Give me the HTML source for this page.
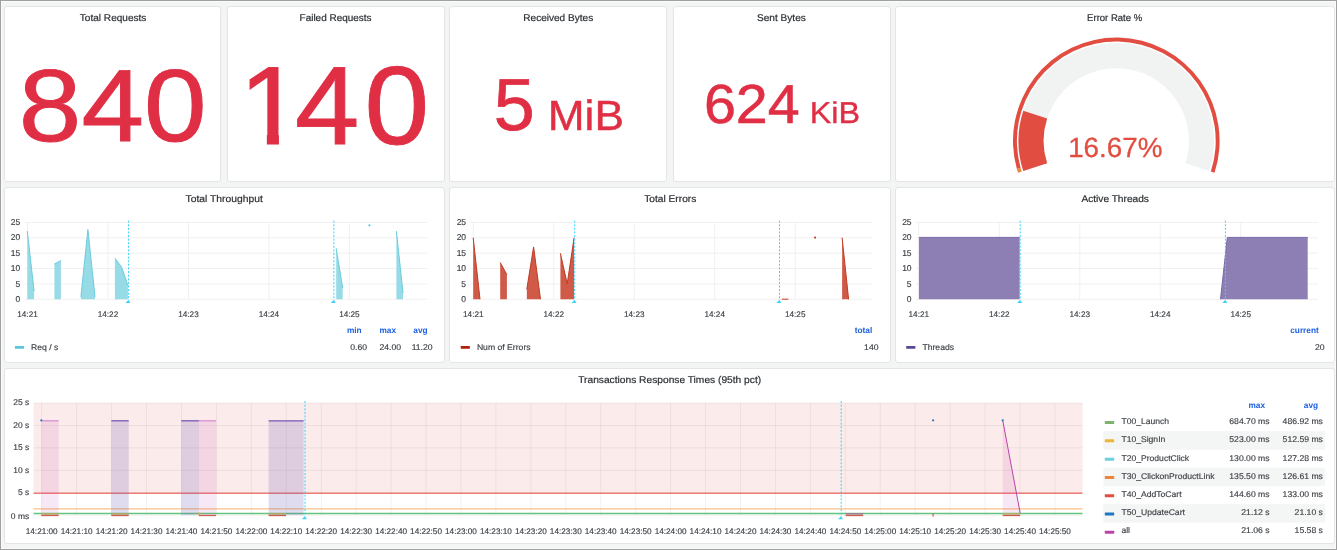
<!DOCTYPE html>
<html><head><meta charset="utf-8"><title>Dashboard</title>
<style>
html,body{margin:0;padding:0;}
body{width:1337px;height:550px;overflow:hidden;position:relative;background:#f3f4f4;font-family:"Liberation Sans", Arial, sans-serif;}
.frame{position:absolute;left:0;top:0;width:1335px;height:548px;border:1px solid #a0a0a0;box-shadow:inset 0 0 0 1px #fbfbfb;}
.panel{position:absolute;box-sizing:border-box;background:#fff;border:1px solid #e4e6e6;border-radius:3px;}
svg{position:absolute;left:0;top:0;}
text{font-family:"Liberation Sans", Arial, sans-serif;text-rendering:geometricPrecision;}
</style></head><body>
<div class="frame"></div>
<div class="panel" style="left:4.10px;top:6.00px;width:217.40px;height:175.70px"></div><div class="panel" style="left:226.90px;top:6.00px;width:218.20px;height:175.70px"></div><div class="panel" style="left:449.30px;top:6.00px;width:218.00px;height:175.70px"></div><div class="panel" style="left:672.80px;top:6.00px;width:217.80px;height:175.70px"></div><div class="panel" style="left:895.10px;top:6.00px;width:439.90px;height:175.70px"></div><div class="panel" style="left:4.10px;top:186.80px;width:441.00px;height:175.90px"></div><div class="panel" style="left:449.30px;top:186.80px;width:441.30px;height:175.90px"></div><div class="panel" style="left:895.10px;top:186.80px;width:439.90px;height:175.90px"></div><div class="panel" style="left:4.10px;top:367.50px;width:1330.90px;height:176.00px"></div>
<svg width="1337" height="550" viewBox="0 0 1337 550">
<text x="79.84" y="21.00" font-size="9.8" fill="#2b2f33" text-anchor="start" font-weight="normal" transform="translate(79.84,0) scale(1.0268,1) translate(-79.84,0)" stroke="#2b2f33" stroke-width="0.2" >Total Requests</text>
<text x="299.59" y="21.00" font-size="9.8" fill="#2b2f33" text-anchor="start" font-weight="normal" transform="translate(299.59,0) scale(1.0156,1) translate(-299.59,0)" stroke="#2b2f33" stroke-width="0.2" >Failed Requests</text>
<text x="523.28" y="21.00" font-size="9.8" fill="#2b2f33" text-anchor="start" font-weight="normal" transform="translate(523.28,0) scale(1.027,1) translate(-523.28,0)" stroke="#2b2f33" stroke-width="0.2" >Received Bytes</text>
<text x="756.99" y="21.00" font-size="9.8" fill="#2b2f33" text-anchor="start" font-weight="normal" transform="translate(756.99,0) scale(1.0302,1) translate(-756.99,0)" stroke="#2b2f33" stroke-width="0.2" >Sent Bytes</text>
<text x="1087.12" y="21.00" font-size="9.8" fill="#2b2f33" text-anchor="start" font-weight="normal" transform="translate(1087.12,0) scale(0.9726,1) translate(-1087.12,0)" stroke="#2b2f33" stroke-width="0.2" >Error Rate %</text>
<text x="185.59" y="201.80" font-size="9.8" fill="#2b2f33" text-anchor="start" font-weight="normal" transform="translate(185.59,0) scale(1.0528,1) translate(-185.59,0)" stroke="#2b2f33" stroke-width="0.2" >Total Throughput</text>
<text x="644.19" y="201.80" font-size="9.8" fill="#2b2f33" text-anchor="start" font-weight="normal" transform="translate(644.19,0) scale(1.0403,1) translate(-644.19,0)" stroke="#2b2f33" stroke-width="0.2" >Total Errors</text>
<text x="1081.40" y="201.80" font-size="9.8" fill="#2b2f33" text-anchor="start" font-weight="normal" transform="translate(1081.40,0) scale(1.036,1) translate(-1081.40,0)" stroke="#2b2f33" stroke-width="0.2" >Active Threads</text>
<text x="578.19" y="382.50" font-size="9.8" fill="#2b2f33" text-anchor="start" font-weight="normal" transform="translate(578.19,0) scale(1.0424,1) translate(-578.19,0)" stroke="#2b2f33" stroke-width="0.2" >Transactions Response Times (95th pct)</text>
<text transform="translate(112.70,140.70) scale(1.097,1)" x="0" y="0" font-size="102.6" fill="#e02f44" stroke="#e02f44" stroke-width="0.9" text-anchor="middle">840</text>
<clipPath id="c1"><rect x="230" y="40" width="80" height="93.8"/><rect x="266.85" y="40" width="12.1" height="120"/></clipPath>
<g clip-path="url(#c1)"><text transform="translate(239.1,143.6) scale(1.03,1)" x="0" y="0" font-size="111.4" fill="#e02f44" stroke="#e02f44" stroke-width="0.9">1</text></g>
<text transform="translate(294.9,143.6) scale(1.039,1)" x="0" y="0" font-size="111.4" fill="#e02f44" stroke="#e02f44" stroke-width="0.9">4</text>
<text transform="translate(364.6,143.6) scale(1.044,1)" x="0" y="0" font-size="111.4" fill="#e02f44" stroke="#e02f44" stroke-width="0.9">0</text>
<text x="493.7" y="129.8" font-size="73.8" fill="#e02f44" stroke="#e02f44" stroke-width="0.7">5</text>
<text x="547.8" y="129.8" font-size="42.3" fill="#e02f44" stroke="#e02f44" stroke-width="0.45" transform="translate(547.8,0) scale(1.045,1) translate(-547.8,0)">MiB</text>
<text x="703.9" y="122.7" font-size="55.0" fill="#e02f44" stroke="#e02f44" stroke-width="0.55" transform="translate(703.8,0) scale(1.044,1) translate(-703.8,0)">624</text>
<text x="809.8" y="122.5" font-size="30.2" fill="#e02f44" stroke="#e02f44" stroke-width="0.35" transform="translate(809.8,0) scale(1.07,1) translate(-809.8,0)">KiB</text>
<path d="M1023.29,171.12 A97.8,97.8 0 1 1 1209.31,171.12 L1185.44,163.37 A72.7,72.7 0 1 0 1047.16,163.37 Z" fill="#f1f2f2"/>
<path d="M1023.29,171.12 A97.8,97.8 0 0 1 1023.29,110.67 L1047.16,118.43 A72.7,72.7 0 0 0 1047.16,163.37 Z" fill="#e24d42"/>
<path d="M1016.90,169.03 A103.3,103.3 0 1 1 1214.54,172.82 L1210.84,171.62 A99.4,99.4 0 1 0 1020.66,167.96 Z" fill="#e24d42"/>
<path d="M1018.06,172.82 A103.3,103.3 0 0 1 1016.90,169.03 L1020.66,167.96 A99.4,99.4 0 0 0 1021.76,171.62 Z" fill="#ef843c"/>
<text x="1115.3" y="157.3" font-size="27.8" fill="#e24d42" stroke="#e24d42" stroke-width="0.3" text-anchor="middle">16.67%</text>
<text x="31.10" y="349.80" font-size="8.3" fill="#3d4146" text-anchor="start" font-weight="normal" transform="translate(31.10,0) scale(1.04,1) translate(-31.10,0)" stroke="#3d4146" stroke-width="0.15" >Req / s</text>
<text x="354.30" y="333.00" font-size="8.3" fill="#1f62e0" text-anchor="middle" font-weight="bold" >min</text>
<text x="387.70" y="333.00" font-size="8.3" fill="#1f62e0" text-anchor="middle" font-weight="bold" >max</text>
<text x="420.50" y="333.00" font-size="8.3" fill="#1f62e0" text-anchor="middle" font-weight="bold" >avg</text>
<text x="367.00" y="349.60" font-size="8.3" fill="#3d4146" text-anchor="end" font-weight="normal" transform="translate(367.00,0) scale(1.04,1) translate(-367.00,0)" stroke="#3d4146" stroke-width="0.15" >0.60</text>
<text x="401.00" y="349.60" font-size="8.3" fill="#3d4146" text-anchor="end" font-weight="normal" transform="translate(401.00,0) scale(1.04,1) translate(-401.00,0)" stroke="#3d4146" stroke-width="0.15" >24.00</text>
<text x="432.60" y="349.60" font-size="8.3" fill="#3d4146" text-anchor="end" font-weight="normal" transform="translate(432.60,0) scale(1.04,1) translate(-432.60,0)" stroke="#3d4146" stroke-width="0.15" >11.20</text>
<text x="20.30" y="301.90" font-size="8.5" fill="#3d4146" text-anchor="end" font-weight="normal" stroke="#3d4146" stroke-width="0.15" >0</text>
<text x="20.30" y="286.52" font-size="8.5" fill="#3d4146" text-anchor="end" font-weight="normal" stroke="#3d4146" stroke-width="0.15" >5</text>
<text x="20.30" y="271.14" font-size="8.5" fill="#3d4146" text-anchor="end" font-weight="normal" stroke="#3d4146" stroke-width="0.15" >10</text>
<text x="20.30" y="255.76" font-size="8.5" fill="#3d4146" text-anchor="end" font-weight="normal" stroke="#3d4146" stroke-width="0.15" >15</text>
<text x="20.30" y="240.38" font-size="8.5" fill="#3d4146" text-anchor="end" font-weight="normal" stroke="#3d4146" stroke-width="0.15" >20</text>
<text x="20.30" y="225.00" font-size="8.5" fill="#3d4146" text-anchor="end" font-weight="normal" stroke="#3d4146" stroke-width="0.15" >25</text>
<text x="27.50" y="316.90" font-size="8.2" fill="#3d4146" text-anchor="middle" font-weight="normal" stroke="#3d4146" stroke-width="0.15" >14:21</text>
<text x="107.98" y="316.90" font-size="8.2" fill="#3d4146" text-anchor="middle" font-weight="normal" stroke="#3d4146" stroke-width="0.15" >14:22</text>
<text x="188.46" y="316.90" font-size="8.2" fill="#3d4146" text-anchor="middle" font-weight="normal" stroke="#3d4146" stroke-width="0.15" >14:23</text>
<text x="268.94" y="316.90" font-size="8.2" fill="#3d4146" text-anchor="middle" font-weight="normal" stroke="#3d4146" stroke-width="0.15" >14:24</text>
<text x="349.42" y="316.90" font-size="8.2" fill="#3d4146" text-anchor="middle" font-weight="normal" stroke="#3d4146" stroke-width="0.15" >14:25</text>
<line x1="24.70" y1="299.30" x2="427.00" y2="299.30" stroke="#f0f0f0" stroke-width="1"/>
<line x1="24.70" y1="283.92" x2="427.00" y2="283.92" stroke="#f0f0f0" stroke-width="1"/>
<line x1="24.70" y1="268.54" x2="427.00" y2="268.54" stroke="#f0f0f0" stroke-width="1"/>
<line x1="24.70" y1="253.16" x2="427.00" y2="253.16" stroke="#f0f0f0" stroke-width="1"/>
<line x1="24.70" y1="237.78" x2="427.00" y2="237.78" stroke="#f0f0f0" stroke-width="1"/>
<line x1="24.70" y1="222.40" x2="427.00" y2="222.40" stroke="#f0f0f0" stroke-width="1"/>
<line x1="27.50" y1="222.40" x2="27.50" y2="299.30" stroke="#f0f0f0" stroke-width="1"/>
<line x1="107.98" y1="222.40" x2="107.98" y2="299.30" stroke="#f0f0f0" stroke-width="1"/>
<line x1="188.46" y1="222.40" x2="188.46" y2="299.30" stroke="#f0f0f0" stroke-width="1"/>
<line x1="268.94" y1="222.40" x2="268.94" y2="299.30" stroke="#f0f0f0" stroke-width="1"/>
<line x1="349.42" y1="222.40" x2="349.42" y2="299.30" stroke="#f0f0f0" stroke-width="1"/>
<polygon points="27.30,299.30 27.30,231.10 34.10,291.10 34.10,299.30" fill="#97dbe7" fill-opacity="1.0"/>
<polyline points="27.30,231.10 34.10,291.10" fill="none" stroke="#6ccbdc" stroke-width="1.0" stroke-linejoin="round"/>
<polygon points="54.40,299.30 54.40,264.10 60.90,260.50 60.90,299.30" fill="#97dbe7" fill-opacity="1.0"/>
<polyline points="54.40,264.10 60.90,260.50" fill="none" stroke="#6ccbdc" stroke-width="1.0" stroke-linejoin="round"/>
<polygon points="80.90,299.30 80.90,297.00 87.90,229.60 95.00,297.00 95.00,299.30" fill="#97dbe7" fill-opacity="1.0"/>
<polyline points="80.90,297.00 87.90,229.60 95.00,297.00" fill="none" stroke="#6ccbdc" stroke-width="1.0" stroke-linejoin="round"/>
<polygon points="114.90,299.30 114.90,258.20 121.50,267.00 127.90,285.40 127.90,299.30" fill="#97dbe7" fill-opacity="1.0"/>
<polyline points="114.90,258.20 121.50,267.00 127.90,285.40" fill="none" stroke="#6ccbdc" stroke-width="1.0" stroke-linejoin="round"/>
<polygon points="336.20,299.30 336.20,248.30 342.70,288.00 342.70,299.30" fill="#97dbe7" fill-opacity="1.0"/>
<polyline points="336.20,248.30 342.70,288.00" fill="none" stroke="#6ccbdc" stroke-width="1.0" stroke-linejoin="round"/>
<polygon points="396.40,299.30 396.40,231.10 403.00,293.00 403.00,299.30" fill="#97dbe7" fill-opacity="1.0"/>
<polyline points="396.40,231.10 403.00,293.00" fill="none" stroke="#6ccbdc" stroke-width="1.0" stroke-linejoin="round"/>
<circle cx="369.4" cy="225.3" r="1.1" fill="#5bc4d8"/>
<line x1="128.60" y1="220.60" x2="128.60" y2="299.30" stroke="#3dd3ff" stroke-width="1" stroke-dasharray="2.1,1.5"/>
<polygon points="125.50,303.00 128.50,299.70 130.40,303.00" fill="#3dd3ff"/>
<line x1="333.90" y1="220.60" x2="333.90" y2="299.30" stroke="#3dd3ff" stroke-width="1" stroke-dasharray="2.1,1.5"/>
<polygon points="330.80,303.00 333.80,299.70 335.70,303.00" fill="#3dd3ff"/>
<rect x="14.9" y="346" width="9.2" height="2.8" rx="0.5" fill="#5ec6da"/>
<text x="476.90" y="349.80" font-size="8.3" fill="#3d4146" text-anchor="start" font-weight="normal" transform="translate(476.90,0) scale(1.04,1) translate(-476.90,0)" stroke="#3d4146" stroke-width="0.15" >Num of Errors</text>
<text x="863.50" y="333.00" font-size="8.3" fill="#1f62e0" text-anchor="middle" font-weight="bold" >total</text>
<text x="878.50" y="349.60" font-size="8.3" fill="#3d4146" text-anchor="end" font-weight="normal" transform="translate(878.50,0) scale(1.04,1) translate(-878.50,0)" stroke="#3d4146" stroke-width="0.15" >140</text>
<text x="466.10" y="301.90" font-size="8.5" fill="#3d4146" text-anchor="end" font-weight="normal" stroke="#3d4146" stroke-width="0.15" >0</text>
<text x="466.10" y="286.52" font-size="8.5" fill="#3d4146" text-anchor="end" font-weight="normal" stroke="#3d4146" stroke-width="0.15" >5</text>
<text x="466.10" y="271.14" font-size="8.5" fill="#3d4146" text-anchor="end" font-weight="normal" stroke="#3d4146" stroke-width="0.15" >10</text>
<text x="466.10" y="255.76" font-size="8.5" fill="#3d4146" text-anchor="end" font-weight="normal" stroke="#3d4146" stroke-width="0.15" >15</text>
<text x="466.10" y="240.38" font-size="8.5" fill="#3d4146" text-anchor="end" font-weight="normal" stroke="#3d4146" stroke-width="0.15" >20</text>
<text x="466.10" y="225.00" font-size="8.5" fill="#3d4146" text-anchor="end" font-weight="normal" stroke="#3d4146" stroke-width="0.15" >25</text>
<text x="473.30" y="316.90" font-size="8.2" fill="#3d4146" text-anchor="middle" font-weight="normal" stroke="#3d4146" stroke-width="0.15" >14:21</text>
<text x="553.78" y="316.90" font-size="8.2" fill="#3d4146" text-anchor="middle" font-weight="normal" stroke="#3d4146" stroke-width="0.15" >14:22</text>
<text x="634.26" y="316.90" font-size="8.2" fill="#3d4146" text-anchor="middle" font-weight="normal" stroke="#3d4146" stroke-width="0.15" >14:23</text>
<text x="714.74" y="316.90" font-size="8.2" fill="#3d4146" text-anchor="middle" font-weight="normal" stroke="#3d4146" stroke-width="0.15" >14:24</text>
<text x="795.22" y="316.90" font-size="8.2" fill="#3d4146" text-anchor="middle" font-weight="normal" stroke="#3d4146" stroke-width="0.15" >14:25</text>
<line x1="470.50" y1="299.30" x2="872.80" y2="299.30" stroke="#f0f0f0" stroke-width="1"/>
<line x1="470.50" y1="283.92" x2="872.80" y2="283.92" stroke="#f0f0f0" stroke-width="1"/>
<line x1="470.50" y1="268.54" x2="872.80" y2="268.54" stroke="#f0f0f0" stroke-width="1"/>
<line x1="470.50" y1="253.16" x2="872.80" y2="253.16" stroke="#f0f0f0" stroke-width="1"/>
<line x1="470.50" y1="237.78" x2="872.80" y2="237.78" stroke="#f0f0f0" stroke-width="1"/>
<line x1="470.50" y1="222.40" x2="872.80" y2="222.40" stroke="#f0f0f0" stroke-width="1"/>
<line x1="473.30" y1="222.40" x2="473.30" y2="299.30" stroke="#f0f0f0" stroke-width="1"/>
<line x1="553.78" y1="222.40" x2="553.78" y2="299.30" stroke="#f0f0f0" stroke-width="1"/>
<line x1="634.26" y1="222.40" x2="634.26" y2="299.30" stroke="#f0f0f0" stroke-width="1"/>
<line x1="714.74" y1="222.40" x2="714.74" y2="299.30" stroke="#f0f0f0" stroke-width="1"/>
<line x1="795.22" y1="222.40" x2="795.22" y2="299.30" stroke="#f0f0f0" stroke-width="1"/>
<polygon points="473.20,299.30 473.20,237.70 480.00,299.30 480.00,299.30" fill="#cf5a48" fill-opacity="1.0"/>
<polyline points="473.20,237.70 480.00,299.30" fill="none" stroke="#c23a22" stroke-width="1.0" stroke-linejoin="round"/>
<polygon points="500.20,299.30 500.20,262.50 506.90,274.70 506.90,299.30" fill="#cf5a48" fill-opacity="1.0"/>
<polyline points="500.20,262.50 506.90,274.70" fill="none" stroke="#c23a22" stroke-width="1.0" stroke-linejoin="round"/>
<polygon points="526.80,299.30 526.80,289.20 533.60,246.90 540.50,299.30 540.50,299.30" fill="#cf5a48" fill-opacity="1.0"/>
<polyline points="526.80,289.20 533.60,246.90 540.50,299.30" fill="none" stroke="#c23a22" stroke-width="1.0" stroke-linejoin="round"/>
<polygon points="560.40,299.30 560.40,253.30 567.20,283.80 574.10,237.70 574.10,299.30" fill="#cf5a48" fill-opacity="1.0"/>
<polyline points="560.40,253.30 567.20,283.80 574.10,237.70" fill="none" stroke="#c23a22" stroke-width="1.0" stroke-linejoin="round"/>
<line x1="781.8" y1="299.2" x2="788.4" y2="299.2" stroke="#cf5a48" stroke-width="1.2"/>
<circle cx="815.1" cy="237.6" r="1.1" fill="#c23a22"/>
<polygon points="842.10,299.30 842.10,237.60 848.60,299.30 848.60,299.30" fill="#cf5a48" fill-opacity="1.0"/>
<polyline points="842.10,237.60 848.60,299.30" fill="none" stroke="#c23a22" stroke-width="1.0" stroke-linejoin="round"/>
<line x1="574.70" y1="220.60" x2="574.70" y2="299.30" stroke="#3dd3ff" stroke-width="1" stroke-dasharray="2.1,1.5"/>
<polygon points="571.60,303.00 574.60,299.70 576.50,303.00" fill="#3dd3ff"/>
<line x1="779.50" y1="220.60" x2="779.50" y2="299.30" stroke="#3dd3ff" stroke-width="1" stroke-dasharray="2.1,1.5"/>
<polygon points="776.40,303.00 779.40,299.70 781.30,303.00" fill="#3dd3ff"/>
<rect x="460.7" y="346" width="9.2" height="2.8" rx="0.5" fill="#b3200a"/>
<text x="922.40" y="349.80" font-size="8.3" fill="#3d4146" text-anchor="start" font-weight="normal" transform="translate(922.40,0) scale(1.04,1) translate(-922.40,0)" stroke="#3d4146" stroke-width="0.15" >Threads</text>
<text x="1304.50" y="333.00" font-size="8.3" fill="#1f62e0" text-anchor="middle" font-weight="bold" >current</text>
<text x="1324.50" y="349.60" font-size="8.3" fill="#3d4146" text-anchor="end" font-weight="normal" transform="translate(1324.50,0) scale(1.04,1) translate(-1324.50,0)" stroke="#3d4146" stroke-width="0.15" >20</text>
<text x="911.60" y="301.90" font-size="8.5" fill="#3d4146" text-anchor="end" font-weight="normal" stroke="#3d4146" stroke-width="0.15" >0</text>
<text x="911.60" y="286.52" font-size="8.5" fill="#3d4146" text-anchor="end" font-weight="normal" stroke="#3d4146" stroke-width="0.15" >5</text>
<text x="911.60" y="271.14" font-size="8.5" fill="#3d4146" text-anchor="end" font-weight="normal" stroke="#3d4146" stroke-width="0.15" >10</text>
<text x="911.60" y="255.76" font-size="8.5" fill="#3d4146" text-anchor="end" font-weight="normal" stroke="#3d4146" stroke-width="0.15" >15</text>
<text x="911.60" y="240.38" font-size="8.5" fill="#3d4146" text-anchor="end" font-weight="normal" stroke="#3d4146" stroke-width="0.15" >20</text>
<text x="911.60" y="225.00" font-size="8.5" fill="#3d4146" text-anchor="end" font-weight="normal" stroke="#3d4146" stroke-width="0.15" >25</text>
<text x="918.80" y="316.90" font-size="8.2" fill="#3d4146" text-anchor="middle" font-weight="normal" stroke="#3d4146" stroke-width="0.15" >14:21</text>
<text x="999.28" y="316.90" font-size="8.2" fill="#3d4146" text-anchor="middle" font-weight="normal" stroke="#3d4146" stroke-width="0.15" >14:22</text>
<text x="1079.76" y="316.90" font-size="8.2" fill="#3d4146" text-anchor="middle" font-weight="normal" stroke="#3d4146" stroke-width="0.15" >14:23</text>
<text x="1160.24" y="316.90" font-size="8.2" fill="#3d4146" text-anchor="middle" font-weight="normal" stroke="#3d4146" stroke-width="0.15" >14:24</text>
<text x="1240.72" y="316.90" font-size="8.2" fill="#3d4146" text-anchor="middle" font-weight="normal" stroke="#3d4146" stroke-width="0.15" >14:25</text>
<line x1="916.00" y1="299.30" x2="1318.00" y2="299.30" stroke="#f0f0f0" stroke-width="1"/>
<line x1="916.00" y1="283.92" x2="1318.00" y2="283.92" stroke="#f0f0f0" stroke-width="1"/>
<line x1="916.00" y1="268.54" x2="1318.00" y2="268.54" stroke="#f0f0f0" stroke-width="1"/>
<line x1="916.00" y1="253.16" x2="1318.00" y2="253.16" stroke="#f0f0f0" stroke-width="1"/>
<line x1="916.00" y1="237.78" x2="1318.00" y2="237.78" stroke="#f0f0f0" stroke-width="1"/>
<line x1="916.00" y1="222.40" x2="1318.00" y2="222.40" stroke="#f0f0f0" stroke-width="1"/>
<line x1="918.80" y1="222.40" x2="918.80" y2="299.30" stroke="#f0f0f0" stroke-width="1"/>
<line x1="999.28" y1="222.40" x2="999.28" y2="299.30" stroke="#f0f0f0" stroke-width="1"/>
<line x1="1079.76" y1="222.40" x2="1079.76" y2="299.30" stroke="#f0f0f0" stroke-width="1"/>
<line x1="1160.24" y1="222.40" x2="1160.24" y2="299.30" stroke="#f0f0f0" stroke-width="1"/>
<line x1="1240.72" y1="222.40" x2="1240.72" y2="299.30" stroke="#f0f0f0" stroke-width="1"/>
<polygon points="918.90,299.30 918.90,237.40 1019.70,237.40 1019.70,299.30" fill="#8d7eb4" fill-opacity="1.0"/>
<polyline points="918.90,237.40 1019.70,237.40" fill="none" stroke="#7a68a8" stroke-width="1.0" stroke-linejoin="round"/>
<polygon points="1220.50,299.30 1220.50,299.30 1227.30,237.40 1307.70,237.40 1307.70,299.30" fill="#8d7eb4" fill-opacity="1.0"/>
<polyline points="1220.50,299.30 1227.30,237.40 1307.70,237.40" fill="none" stroke="#7a68a8" stroke-width="1.0" stroke-linejoin="round"/>
<line x1="1020.20" y1="220.60" x2="1020.20" y2="299.30" stroke="#3dd3ff" stroke-width="1" stroke-dasharray="2.1,1.5"/>
<polygon points="1017.10,303.00 1020.10,299.70 1022.00,303.00" fill="#3dd3ff"/>
<line x1="1225.40" y1="220.60" x2="1225.40" y2="299.30" stroke="#3dd3ff" stroke-width="1" stroke-dasharray="2.1,1.5"/>
<polygon points="1222.30,303.00 1225.30,299.70 1227.20,303.00" fill="#3dd3ff"/>
<rect x="906.2" y="346" width="9.2" height="2.8" rx="0.5" fill="#5a4894"/>
<text x="29.20" y="518.60" font-size="8.3" fill="#3d4146" text-anchor="end" font-weight="normal" transform="translate(29.20,0) scale(1.02,1) translate(-29.20,0)" stroke="#3d4146" stroke-width="0.15" >0 ms</text>
<text x="29.20" y="495.06" font-size="8.3" fill="#3d4146" text-anchor="end" font-weight="normal" transform="translate(29.20,0) scale(1.02,1) translate(-29.20,0)" stroke="#3d4146" stroke-width="0.15" >5 s</text>
<text x="29.20" y="472.62" font-size="8.3" fill="#3d4146" text-anchor="end" font-weight="normal" transform="translate(29.20,0) scale(1.02,1) translate(-29.20,0)" stroke="#3d4146" stroke-width="0.15" >10 s</text>
<text x="29.20" y="450.18" font-size="8.3" fill="#3d4146" text-anchor="end" font-weight="normal" transform="translate(29.20,0) scale(1.02,1) translate(-29.20,0)" stroke="#3d4146" stroke-width="0.15" >15 s</text>
<text x="29.20" y="427.74" font-size="8.3" fill="#3d4146" text-anchor="end" font-weight="normal" transform="translate(29.20,0) scale(1.02,1) translate(-29.20,0)" stroke="#3d4146" stroke-width="0.15" >20 s</text>
<text x="29.20" y="405.30" font-size="8.3" fill="#3d4146" text-anchor="end" font-weight="normal" transform="translate(29.20,0) scale(1.02,1) translate(-29.20,0)" stroke="#3d4146" stroke-width="0.15" >25 s</text>
<text x="41.70" y="534.00" font-size="8.2" fill="#3d4146" text-anchor="middle" font-weight="normal" stroke="#3d4146" stroke-width="0.15" >14:21:00</text>
<text x="76.64" y="534.00" font-size="8.2" fill="#3d4146" text-anchor="middle" font-weight="normal" stroke="#3d4146" stroke-width="0.15" >14:21:10</text>
<text x="111.58" y="534.00" font-size="8.2" fill="#3d4146" text-anchor="middle" font-weight="normal" stroke="#3d4146" stroke-width="0.15" >14:21:20</text>
<text x="146.52" y="534.00" font-size="8.2" fill="#3d4146" text-anchor="middle" font-weight="normal" stroke="#3d4146" stroke-width="0.15" >14:21:30</text>
<text x="181.46" y="534.00" font-size="8.2" fill="#3d4146" text-anchor="middle" font-weight="normal" stroke="#3d4146" stroke-width="0.15" >14:21:40</text>
<text x="216.40" y="534.00" font-size="8.2" fill="#3d4146" text-anchor="middle" font-weight="normal" stroke="#3d4146" stroke-width="0.15" >14:21:50</text>
<text x="251.34" y="534.00" font-size="8.2" fill="#3d4146" text-anchor="middle" font-weight="normal" stroke="#3d4146" stroke-width="0.15" >14:22:00</text>
<text x="286.28" y="534.00" font-size="8.2" fill="#3d4146" text-anchor="middle" font-weight="normal" stroke="#3d4146" stroke-width="0.15" >14:22:10</text>
<text x="321.22" y="534.00" font-size="8.2" fill="#3d4146" text-anchor="middle" font-weight="normal" stroke="#3d4146" stroke-width="0.15" >14:22:20</text>
<text x="356.16" y="534.00" font-size="8.2" fill="#3d4146" text-anchor="middle" font-weight="normal" stroke="#3d4146" stroke-width="0.15" >14:22:30</text>
<text x="391.10" y="534.00" font-size="8.2" fill="#3d4146" text-anchor="middle" font-weight="normal" stroke="#3d4146" stroke-width="0.15" >14:22:40</text>
<text x="426.04" y="534.00" font-size="8.2" fill="#3d4146" text-anchor="middle" font-weight="normal" stroke="#3d4146" stroke-width="0.15" >14:22:50</text>
<text x="460.98" y="534.00" font-size="8.2" fill="#3d4146" text-anchor="middle" font-weight="normal" stroke="#3d4146" stroke-width="0.15" >14:23:00</text>
<text x="495.92" y="534.00" font-size="8.2" fill="#3d4146" text-anchor="middle" font-weight="normal" stroke="#3d4146" stroke-width="0.15" >14:23:10</text>
<text x="530.86" y="534.00" font-size="8.2" fill="#3d4146" text-anchor="middle" font-weight="normal" stroke="#3d4146" stroke-width="0.15" >14:23:20</text>
<text x="565.80" y="534.00" font-size="8.2" fill="#3d4146" text-anchor="middle" font-weight="normal" stroke="#3d4146" stroke-width="0.15" >14:23:30</text>
<text x="600.74" y="534.00" font-size="8.2" fill="#3d4146" text-anchor="middle" font-weight="normal" stroke="#3d4146" stroke-width="0.15" >14:23:40</text>
<text x="635.68" y="534.00" font-size="8.2" fill="#3d4146" text-anchor="middle" font-weight="normal" stroke="#3d4146" stroke-width="0.15" >14:23:50</text>
<text x="670.62" y="534.00" font-size="8.2" fill="#3d4146" text-anchor="middle" font-weight="normal" stroke="#3d4146" stroke-width="0.15" >14:24:00</text>
<text x="705.56" y="534.00" font-size="8.2" fill="#3d4146" text-anchor="middle" font-weight="normal" stroke="#3d4146" stroke-width="0.15" >14:24:10</text>
<text x="740.50" y="534.00" font-size="8.2" fill="#3d4146" text-anchor="middle" font-weight="normal" stroke="#3d4146" stroke-width="0.15" >14:24:20</text>
<text x="775.44" y="534.00" font-size="8.2" fill="#3d4146" text-anchor="middle" font-weight="normal" stroke="#3d4146" stroke-width="0.15" >14:24:30</text>
<text x="810.38" y="534.00" font-size="8.2" fill="#3d4146" text-anchor="middle" font-weight="normal" stroke="#3d4146" stroke-width="0.15" >14:24:40</text>
<text x="845.32" y="534.00" font-size="8.2" fill="#3d4146" text-anchor="middle" font-weight="normal" stroke="#3d4146" stroke-width="0.15" >14:24:50</text>
<text x="880.26" y="534.00" font-size="8.2" fill="#3d4146" text-anchor="middle" font-weight="normal" stroke="#3d4146" stroke-width="0.15" >14:25:00</text>
<text x="915.20" y="534.00" font-size="8.2" fill="#3d4146" text-anchor="middle" font-weight="normal" stroke="#3d4146" stroke-width="0.15" >14:25:10</text>
<text x="950.14" y="534.00" font-size="8.2" fill="#3d4146" text-anchor="middle" font-weight="normal" stroke="#3d4146" stroke-width="0.15" >14:25:20</text>
<text x="985.08" y="534.00" font-size="8.2" fill="#3d4146" text-anchor="middle" font-weight="normal" stroke="#3d4146" stroke-width="0.15" >14:25:30</text>
<text x="1020.02" y="534.00" font-size="8.2" fill="#3d4146" text-anchor="middle" font-weight="normal" stroke="#3d4146" stroke-width="0.15" >14:25:40</text>
<text x="1054.96" y="534.00" font-size="8.2" fill="#3d4146" text-anchor="middle" font-weight="normal" stroke="#3d4146" stroke-width="0.15" >14:25:50</text>
<rect x="33.6" y="403.0" width="1048.90" height="89.76" fill="#fcebeb"/>
<line x1="33.6" y1="515.20" x2="1082.5" y2="515.20" stroke="#000" stroke-opacity="0.06" stroke-width="1"/>
<line x1="33.6" y1="492.76" x2="1082.5" y2="492.76" stroke="#000" stroke-opacity="0.06" stroke-width="1"/>
<line x1="33.6" y1="470.32" x2="1082.5" y2="470.32" stroke="#000" stroke-opacity="0.06" stroke-width="1"/>
<line x1="33.6" y1="447.88" x2="1082.5" y2="447.88" stroke="#000" stroke-opacity="0.06" stroke-width="1"/>
<line x1="33.6" y1="425.44" x2="1082.5" y2="425.44" stroke="#000" stroke-opacity="0.06" stroke-width="1"/>
<line x1="33.6" y1="403.00" x2="1082.5" y2="403.00" stroke="#000" stroke-opacity="0.06" stroke-width="1"/>
<line x1="41.70" y1="403.0" x2="41.70" y2="515.2" stroke="#000" stroke-opacity="0.055" stroke-width="1"/>
<line x1="76.64" y1="403.0" x2="76.64" y2="515.2" stroke="#000" stroke-opacity="0.055" stroke-width="1"/>
<line x1="111.58" y1="403.0" x2="111.58" y2="515.2" stroke="#000" stroke-opacity="0.055" stroke-width="1"/>
<line x1="146.52" y1="403.0" x2="146.52" y2="515.2" stroke="#000" stroke-opacity="0.055" stroke-width="1"/>
<line x1="181.46" y1="403.0" x2="181.46" y2="515.2" stroke="#000" stroke-opacity="0.055" stroke-width="1"/>
<line x1="216.40" y1="403.0" x2="216.40" y2="515.2" stroke="#000" stroke-opacity="0.055" stroke-width="1"/>
<line x1="251.34" y1="403.0" x2="251.34" y2="515.2" stroke="#000" stroke-opacity="0.055" stroke-width="1"/>
<line x1="286.28" y1="403.0" x2="286.28" y2="515.2" stroke="#000" stroke-opacity="0.055" stroke-width="1"/>
<line x1="321.22" y1="403.0" x2="321.22" y2="515.2" stroke="#000" stroke-opacity="0.055" stroke-width="1"/>
<line x1="356.16" y1="403.0" x2="356.16" y2="515.2" stroke="#000" stroke-opacity="0.055" stroke-width="1"/>
<line x1="391.10" y1="403.0" x2="391.10" y2="515.2" stroke="#000" stroke-opacity="0.055" stroke-width="1"/>
<line x1="426.04" y1="403.0" x2="426.04" y2="515.2" stroke="#000" stroke-opacity="0.055" stroke-width="1"/>
<line x1="460.98" y1="403.0" x2="460.98" y2="515.2" stroke="#000" stroke-opacity="0.055" stroke-width="1"/>
<line x1="495.92" y1="403.0" x2="495.92" y2="515.2" stroke="#000" stroke-opacity="0.055" stroke-width="1"/>
<line x1="530.86" y1="403.0" x2="530.86" y2="515.2" stroke="#000" stroke-opacity="0.055" stroke-width="1"/>
<line x1="565.80" y1="403.0" x2="565.80" y2="515.2" stroke="#000" stroke-opacity="0.055" stroke-width="1"/>
<line x1="600.74" y1="403.0" x2="600.74" y2="515.2" stroke="#000" stroke-opacity="0.055" stroke-width="1"/>
<line x1="635.68" y1="403.0" x2="635.68" y2="515.2" stroke="#000" stroke-opacity="0.055" stroke-width="1"/>
<line x1="670.62" y1="403.0" x2="670.62" y2="515.2" stroke="#000" stroke-opacity="0.055" stroke-width="1"/>
<line x1="705.56" y1="403.0" x2="705.56" y2="515.2" stroke="#000" stroke-opacity="0.055" stroke-width="1"/>
<line x1="740.50" y1="403.0" x2="740.50" y2="515.2" stroke="#000" stroke-opacity="0.055" stroke-width="1"/>
<line x1="775.44" y1="403.0" x2="775.44" y2="515.2" stroke="#000" stroke-opacity="0.055" stroke-width="1"/>
<line x1="810.38" y1="403.0" x2="810.38" y2="515.2" stroke="#000" stroke-opacity="0.055" stroke-width="1"/>
<line x1="845.32" y1="403.0" x2="845.32" y2="515.2" stroke="#000" stroke-opacity="0.055" stroke-width="1"/>
<line x1="880.26" y1="403.0" x2="880.26" y2="515.2" stroke="#000" stroke-opacity="0.055" stroke-width="1"/>
<line x1="915.20" y1="403.0" x2="915.20" y2="515.2" stroke="#000" stroke-opacity="0.055" stroke-width="1"/>
<line x1="950.14" y1="403.0" x2="950.14" y2="515.2" stroke="#000" stroke-opacity="0.055" stroke-width="1"/>
<line x1="985.08" y1="403.0" x2="985.08" y2="515.2" stroke="#000" stroke-opacity="0.055" stroke-width="1"/>
<line x1="1020.02" y1="403.0" x2="1020.02" y2="515.2" stroke="#000" stroke-opacity="0.055" stroke-width="1"/>
<line x1="1054.96" y1="403.0" x2="1054.96" y2="515.2" stroke="#000" stroke-opacity="0.055" stroke-width="1"/>
<line x1="33.6" y1="493.2" x2="1082.5" y2="493.2" stroke="#ee7b76" stroke-width="1.4"/>
<line x1="33.6" y1="508.9" x2="1082.5" y2="508.9" stroke="#f9c185" stroke-width="1.4"/>
<line x1="33.6" y1="513.6" x2="1082.5" y2="513.6" stroke="#62c57c" stroke-width="1.5"/>
<rect x="41.3" y="420.8" width="17.30" height="94.40" fill="#ba43a9" fill-opacity="0.12"/>
<line x1="41.3" y1="420.8" x2="58.6" y2="420.8" stroke="#d88fd2" stroke-width="1.3"/>
<rect x="111.3" y="420.8" width="17.40" height="94.40" fill="#ba43a9" fill-opacity="0.12"/>
<rect x="111.3" y="420.8" width="17.40" height="94.40" fill="#1f78c1" fill-opacity="0.1"/>
<line x1="111.3" y1="420.8" x2="128.7" y2="420.8" stroke="#7a55b8" stroke-width="1.3"/>
<rect x="181.2" y="420.8" width="17.70" height="94.40" fill="#ba43a9" fill-opacity="0.12"/>
<rect x="181.2" y="420.8" width="17.70" height="94.40" fill="#1f78c1" fill-opacity="0.1"/>
<line x1="181.2" y1="420.8" x2="198.9" y2="420.8" stroke="#7a55b8" stroke-width="1.3"/>
<rect x="198.9" y="420.8" width="17.20" height="94.40" fill="#ba43a9" fill-opacity="0.12"/>
<line x1="198.9" y1="420.8" x2="216.1" y2="420.8" stroke="#d88fd2" stroke-width="1.3"/>
<rect x="268.6" y="420.8" width="35.00" height="94.40" fill="#ba43a9" fill-opacity="0.12"/>
<rect x="268.6" y="420.8" width="35.00" height="94.40" fill="#1f78c1" fill-opacity="0.1"/>
<line x1="268.6" y1="420.8" x2="303.6" y2="420.8" stroke="#7a55b8" stroke-width="1.3"/>
<polygon points="1002.70,515.20 1002.70,420.20 1020.20,513.20 1020.20,515.20" fill="#ba43a9" fill-opacity="0.12"/>
<line x1="1002.7" y1="420.2" x2="1020.2" y2="513.2" stroke="#ba43a9" stroke-width="1"/>
<line x1="41.3" y1="513.8" x2="58.6" y2="513.8" stroke="#a9ad68" stroke-width="1.6"/>
<line x1="111.3" y1="513.8" x2="128.7" y2="513.8" stroke="#a9ad68" stroke-width="1.6"/>
<line x1="268.6" y1="513.8" x2="286.0" y2="513.8" stroke="#a9ad68" stroke-width="1.6"/>
<line x1="1002.7" y1="513.8" x2="1020.2" y2="513.8" stroke="#b0b26a" stroke-width="1.6"/>
<line x1="845.7" y1="513.8" x2="863.2" y2="513.8" stroke="#9c7f92" stroke-width="1.6"/>
<rect x="197.8" y="512.6" width="1.8" height="2.2" fill="#d9a93a"/>
<line x1="41.3" y1="515.5" x2="58.6" y2="515.5" stroke="#cf5a4e" stroke-width="1.3"/>
<line x1="111.3" y1="515.5" x2="128.7" y2="515.5" stroke="#cf5a4e" stroke-width="1.3"/>
<line x1="198.9" y1="515.5" x2="216.1" y2="515.5" stroke="#cf5a4e" stroke-width="1.3"/>
<line x1="268.6" y1="515.5" x2="286.0" y2="515.5" stroke="#cf5a4e" stroke-width="1.3"/>
<line x1="845.7" y1="515.5" x2="863.2" y2="515.5" stroke="#cf5a4e" stroke-width="1.3"/>
<line x1="1002.7" y1="515.5" x2="1020.2" y2="515.5" stroke="#cf5a4e" stroke-width="1.3"/>
<line x1="933.1" y1="513.5" x2="933.1" y2="516.5" stroke="#d9533f" stroke-width="1.2"/>
<circle cx="41.3" cy="420.3" r="1.1" fill="#1f78c1"/>
<circle cx="933.1" cy="420.3" r="1.1" fill="#1f78c1"/>
<circle cx="1002.7" cy="420.3" r="1.1" fill="#1f78c1"/>
<line x1="305.00" y1="401.00" x2="305.00" y2="515.60" stroke="#3dd3ff" stroke-width="1" stroke-dasharray="2.1,1.5"/>
<polygon points="301.90,519.30 304.90,516.00 306.80,519.30" fill="#3dd3ff"/>
<line x1="841.20" y1="401.00" x2="841.20" y2="515.60" stroke="#3dd3ff" stroke-width="1" stroke-dasharray="2.1,1.5"/>
<polygon points="838.10,519.30 841.10,516.00 843.00,519.30" fill="#3dd3ff"/>
<text x="1256.70" y="407.80" font-size="8.3" fill="#1f62e0" text-anchor="middle" font-weight="bold" >max</text>
<text x="1311.00" y="407.80" font-size="8.3" fill="#1f62e0" text-anchor="middle" font-weight="bold" >avg</text>
<rect x="1104.8" y="421.10" width="9.4" height="3.0" rx="0.6" fill="#7eb26d"/>
<text x="1121.40" y="424.10" font-size="8.3" fill="#3d4146" text-anchor="start" font-weight="normal" transform="translate(1121.40,0) scale(1.035,1) translate(-1121.40,0)" stroke="#3d4146" stroke-width="0.15" >T00_Launch</text>
<text x="1269.60" y="424.10" font-size="8.3" fill="#3d4146" text-anchor="end" font-weight="normal" transform="translate(1269.60,0) scale(1.04,1) translate(-1269.60,0)" stroke="#3d4146" stroke-width="0.15" >684.70 ms</text>
<text x="1322.90" y="424.10" font-size="8.3" fill="#3d4146" text-anchor="end" font-weight="normal" transform="translate(1322.90,0) scale(1.04,1) translate(-1322.90,0)" stroke="#3d4146" stroke-width="0.15" >486.92 ms</text>
<rect x="1103.4" y="431.20" width="221.7" height="18.5" fill="#f4f5f5"/>
<rect x="1104.8" y="439.37" width="9.4" height="3.0" rx="0.6" fill="#eab839"/>
<text x="1121.40" y="442.33" font-size="8.3" fill="#3d4146" text-anchor="start" font-weight="normal" transform="translate(1121.40,0) scale(1.035,1) translate(-1121.40,0)" stroke="#3d4146" stroke-width="0.15" >T10_SignIn</text>
<text x="1269.60" y="442.33" font-size="8.3" fill="#3d4146" text-anchor="end" font-weight="normal" transform="translate(1269.60,0) scale(1.04,1) translate(-1269.60,0)" stroke="#3d4146" stroke-width="0.15" >523.00 ms</text>
<text x="1322.90" y="442.33" font-size="8.3" fill="#3d4146" text-anchor="end" font-weight="normal" transform="translate(1322.90,0) scale(1.04,1) translate(-1322.90,0)" stroke="#3d4146" stroke-width="0.15" >512.59 ms</text>
<rect x="1104.8" y="457.64" width="9.4" height="3.0" rx="0.6" fill="#6ed0e0"/>
<text x="1121.40" y="460.56" font-size="8.3" fill="#3d4146" text-anchor="start" font-weight="normal" transform="translate(1121.40,0) scale(1.035,1) translate(-1121.40,0)" stroke="#3d4146" stroke-width="0.15" >T20_ProductClick</text>
<text x="1269.60" y="460.56" font-size="8.3" fill="#3d4146" text-anchor="end" font-weight="normal" transform="translate(1269.60,0) scale(1.04,1) translate(-1269.60,0)" stroke="#3d4146" stroke-width="0.15" >130.00 ms</text>
<text x="1322.90" y="460.56" font-size="8.3" fill="#3d4146" text-anchor="end" font-weight="normal" transform="translate(1322.90,0) scale(1.04,1) translate(-1322.90,0)" stroke="#3d4146" stroke-width="0.15" >127.28 ms</text>
<rect x="1103.4" y="467.66" width="221.7" height="18.5" fill="#f4f5f5"/>
<rect x="1104.8" y="475.91" width="9.4" height="3.0" rx="0.6" fill="#ef843c"/>
<text x="1121.40" y="478.79" font-size="8.3" fill="#3d4146" text-anchor="start" font-weight="normal" transform="translate(1121.40,0) scale(1.035,1) translate(-1121.40,0)" stroke="#3d4146" stroke-width="0.15" >T30_ClickonProductLink</text>
<text x="1269.60" y="478.79" font-size="8.3" fill="#3d4146" text-anchor="end" font-weight="normal" transform="translate(1269.60,0) scale(1.04,1) translate(-1269.60,0)" stroke="#3d4146" stroke-width="0.15" >135.50 ms</text>
<text x="1322.90" y="478.79" font-size="8.3" fill="#3d4146" text-anchor="end" font-weight="normal" transform="translate(1322.90,0) scale(1.04,1) translate(-1322.90,0)" stroke="#3d4146" stroke-width="0.15" >126.61 ms</text>
<rect x="1104.8" y="494.18" width="9.4" height="3.0" rx="0.6" fill="#e24d42"/>
<text x="1121.40" y="497.02" font-size="8.3" fill="#3d4146" text-anchor="start" font-weight="normal" transform="translate(1121.40,0) scale(1.035,1) translate(-1121.40,0)" stroke="#3d4146" stroke-width="0.15" >T40_AddToCart</text>
<text x="1269.60" y="497.02" font-size="8.3" fill="#3d4146" text-anchor="end" font-weight="normal" transform="translate(1269.60,0) scale(1.04,1) translate(-1269.60,0)" stroke="#3d4146" stroke-width="0.15" >144.60 ms</text>
<text x="1322.90" y="497.02" font-size="8.3" fill="#3d4146" text-anchor="end" font-weight="normal" transform="translate(1322.90,0) scale(1.04,1) translate(-1322.90,0)" stroke="#3d4146" stroke-width="0.15" >133.00 ms</text>
<rect x="1103.4" y="504.12" width="221.7" height="18.5" fill="#f4f5f5"/>
<rect x="1104.8" y="512.45" width="9.4" height="3.0" rx="0.6" fill="#1f78c1"/>
<text x="1121.40" y="515.25" font-size="8.3" fill="#3d4146" text-anchor="start" font-weight="normal" transform="translate(1121.40,0) scale(1.035,1) translate(-1121.40,0)" stroke="#3d4146" stroke-width="0.15" >T50_UpdateCart</text>
<text x="1269.60" y="515.25" font-size="8.3" fill="#3d4146" text-anchor="end" font-weight="normal" transform="translate(1269.60,0) scale(1.04,1) translate(-1269.60,0)" stroke="#3d4146" stroke-width="0.15" >21.12 s</text>
<text x="1322.90" y="515.25" font-size="8.3" fill="#3d4146" text-anchor="end" font-weight="normal" transform="translate(1322.90,0) scale(1.04,1) translate(-1322.90,0)" stroke="#3d4146" stroke-width="0.15" >21.10 s</text>
<rect x="1104.8" y="530.72" width="9.4" height="3.0" rx="0.6" fill="#ba43a9"/>
<text x="1121.40" y="533.48" font-size="8.3" fill="#3d4146" text-anchor="start" font-weight="normal" transform="translate(1121.40,0) scale(1.035,1) translate(-1121.40,0)" stroke="#3d4146" stroke-width="0.15" >all</text>
<text x="1269.60" y="533.48" font-size="8.3" fill="#3d4146" text-anchor="end" font-weight="normal" transform="translate(1269.60,0) scale(1.04,1) translate(-1269.60,0)" stroke="#3d4146" stroke-width="0.15" >21.06 s</text>
<text x="1322.90" y="533.48" font-size="8.3" fill="#3d4146" text-anchor="end" font-weight="normal" transform="translate(1322.90,0) scale(1.04,1) translate(-1322.90,0)" stroke="#3d4146" stroke-width="0.15" >15.58 s</text>
</svg>
</body></html>
